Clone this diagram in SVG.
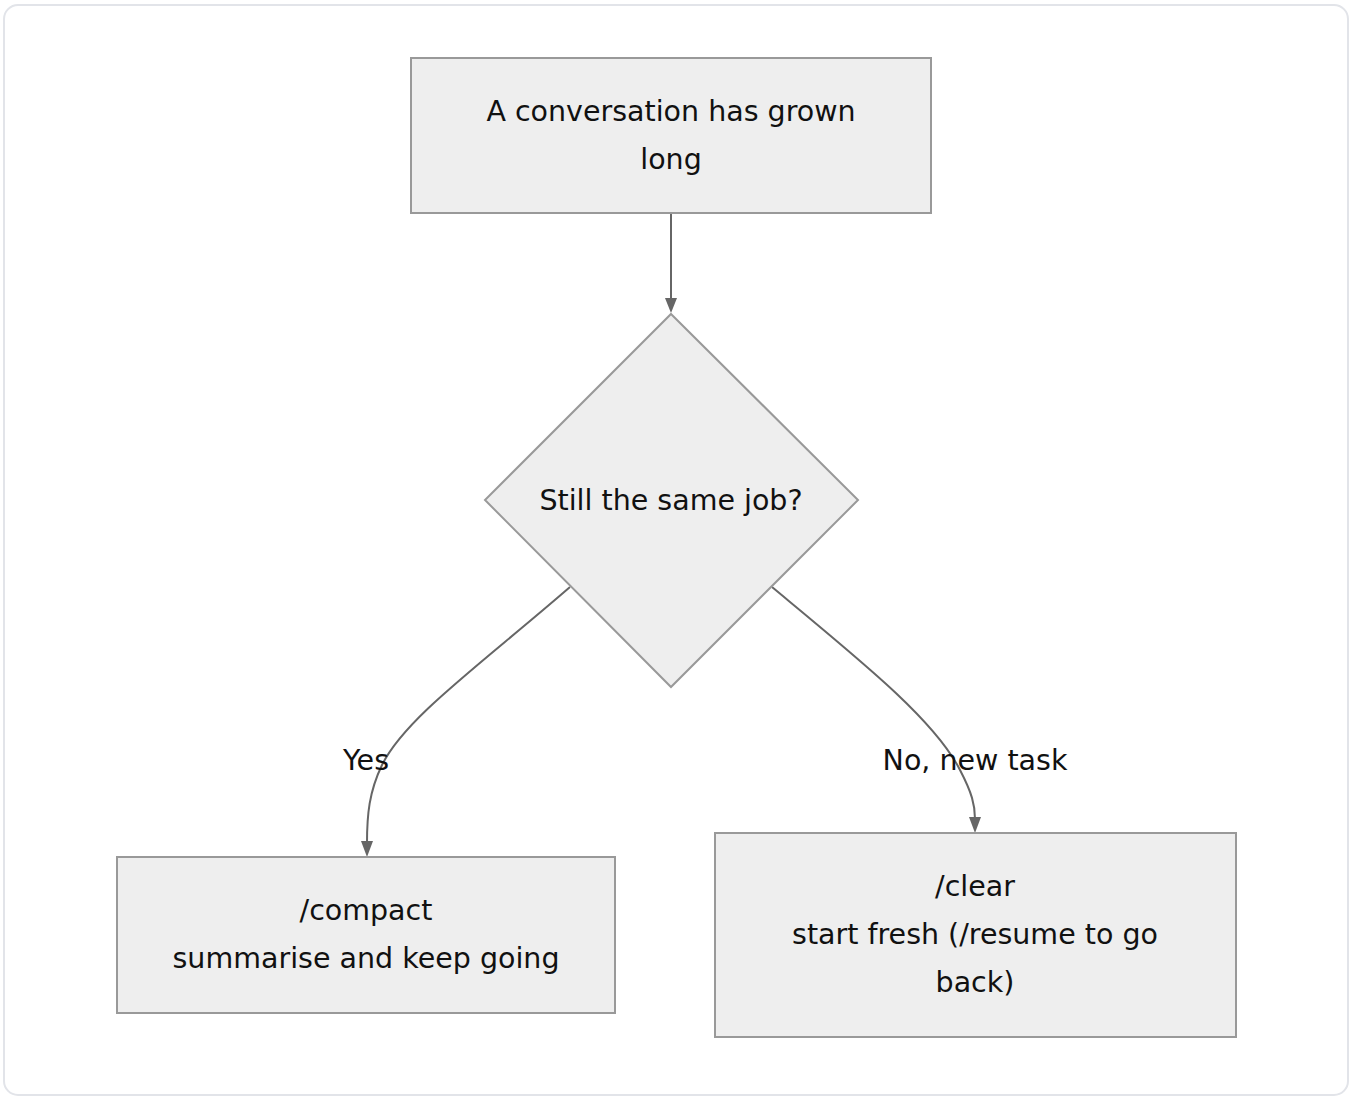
<svg xmlns="http://www.w3.org/2000/svg" width="1352" height="1099" viewBox="0 0 1352 1099">
<style>
.node{fill:#eeeeee;stroke:#999999;stroke-width:2}
.lbl{font-family:"DejaVu Sans","Liberation Sans",sans-serif;font-size:28.5px;fill:#111;text-anchor:middle}
.edge{fill:none;stroke:#666666;stroke-width:2}
</style>
<rect x="4" y="5" width="1344" height="1090" rx="14" fill="#ffffff" stroke="#e2e4e9" stroke-width="2"/>
<g id="connectors">
<path class="edge" d="M671,213 L671,300"/>
<path d="M665,298 L677,298 L671,313 z" fill="#666666"/>
<path class="edge" d="M570,587 C480,665 405,718 382,765 C369,792 367,815 367,843"/>
<path d="M361,841 L373,841 L367,857 z" fill="#666666"/>
<path class="edge" d="M772,587 C860,660 935,720 960,770 C972,793 975,805 975,819"/>
<path d="M969,817 L981,817 L975,833 z" fill="#666666"/>
<text class="lbl" x="366" y="770">Yes</text>
<text class="lbl" x="975" y="770">No, new task</text>
</g>
<g id="start">
<rect class="node" x="411" y="58" width="520" height="155"/>
<text class="lbl" x="671" y="121">A conversation has grown</text>
<text class="lbl" x="671" y="169">long</text>
</g>
<g id="decision">
<polygon class="node" points="671,314 858,500 671,687 485,500"/>
<text class="lbl" x="671" y="510">Still the same job?</text>
</g>
<g id="compact">
<rect class="node" x="117" y="857" width="498" height="156"/>
<text class="lbl" x="366" y="920">/compact</text>
<text class="lbl" x="366" y="968">summarise and keep going</text>
</g>
<g id="clear">
<rect class="node" x="715" y="833" width="521" height="204"/>
<text class="lbl" x="975" y="896">/clear</text>
<text class="lbl" x="975" y="944">start fresh (/resume to go</text>
<text class="lbl" x="975" y="992">back)</text>
</g>
</svg>
